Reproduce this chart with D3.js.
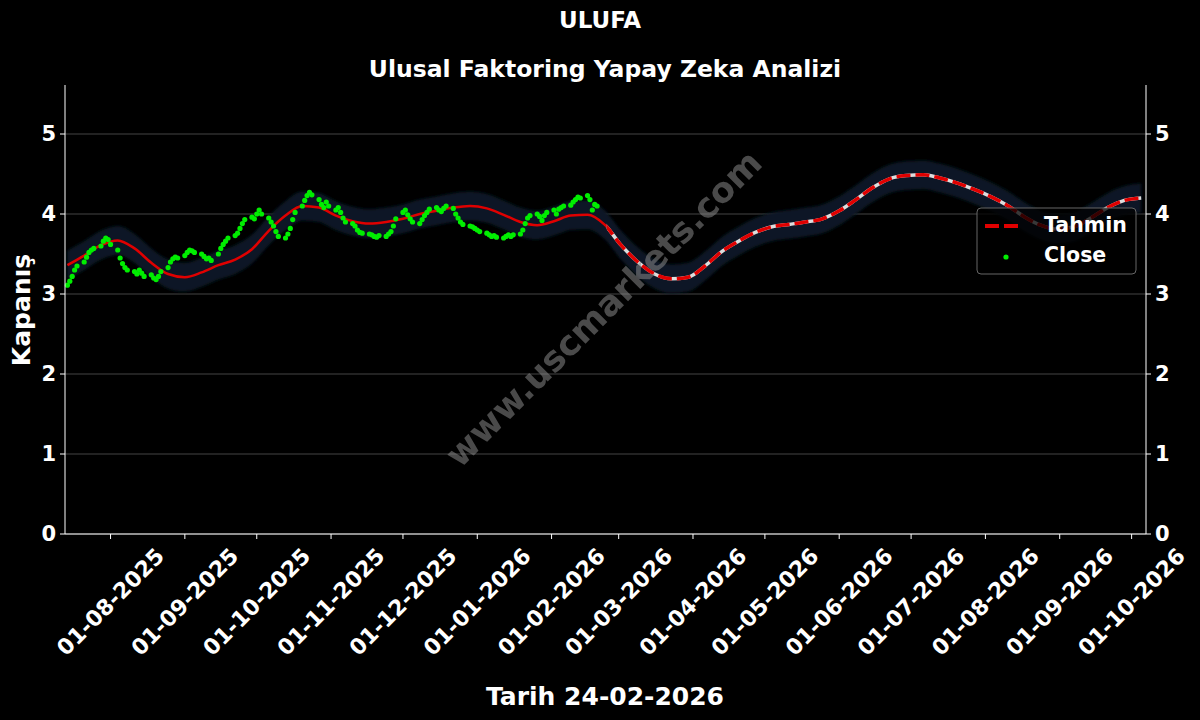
<!DOCTYPE html>
<html><head><meta charset="utf-8">
<script src="https://cdn.jsdelivr.net/npm/d3@7"></script>
<style>body{margin:0;background:#000}text{font-family:"DejaVu Sans";font-weight:bold;fill:#fff}</style>
</head><body><svg id="c" width="1200" height="720"></svg>
<script>
const predStart = "2025-07-14"; // weekly points
const predValues = [3.36,3.48,3.61,3.67,3.57,3.39,3.25,3.21,3.27,3.36,3.43,3.56,3.79,3.98,4.10,4.08,3.98,3.91,3.88,3.90,3.94,4.00,4.04,4.08,4.10,4.07,3.99,3.90,3.86,3.91,3.98,3.99,3.87,3.61,3.40,3.25,3.19,3.21,3.35,3.53,3.66,3.77,3.84,3.87,3.90,3.94,4.04,4.18,4.33,4.44,4.48,4.49,4.45,4.39,4.31,4.22,4.11,3.97,3.86,3.81,3.84,3.95,4.08,4.17,4.20];
const closeStart = "2025-07-14"; // trading days
const closeValues = [3.11,3.16,3.22,3.30,3.35,3.40,3.46,3.52,3.55,3.57,
3.60,3.66,3.70,3.68,
3.62,3.55,3.45,3.38,3.33,3.30,3.28,3.25,
3.30,3.26,3.22,3.24,3.20,3.18,
3.22,3.28,3.33,3.40,3.44,3.46,3.45,3.48,3.52,3.55,3.54,3.52,
3.50,3.47,3.44,3.45,3.42,3.50,3.57,3.62,3.66,3.70,3.73,3.76,
3.82,3.88,3.93,3.96,3.94,4.00,4.05,
4.00,3.95,3.90,3.85,3.78,3.72,3.70,
3.75,3.82,3.93,4.02,4.10,4.17,4.23,4.27,
4.24,4.18,4.12,4.08,4.15,4.10,4.05,4.08,4.02,3.95,3.90,
3.88,3.85,3.80,3.77,3.76,3.75,3.74,3.72,3.71,3.73,3.72,3.75,3.78,
3.85,3.94,4.02,4.05,3.99,3.94,3.90,3.88,3.93,3.98,4.02,4.06,4.08,4.05,4.03,4.07,4.10,4.07,
4.00,3.95,3.90,3.87,3.85,3.84,3.82,3.80,3.78,3.76,3.74,3.72,3.73,3.71,3.70,3.72,3.74,3.72,
3.74,3.75,3.80,3.88,3.95,3.98,4.00,3.97,3.92,3.98,4.02,4.05,4.00,
4.06,4.08,4.10,4.11,4.15,4.18,4.21,4.20,4.23,4.18,4.05,4.12,4.10];
const forecastFrom = "2026-02-24";
const bandHalf = 0.18;
const xTickLabels = ["01-08-2025","01-09-2025","01-10-2025","01-11-2025","01-12-2025","01-01-2026","01-02-2026","01-03-2026","01-04-2026","01-05-2026","01-06-2026","01-07-2026","01-08-2026","01-09-2026","01-10-2026"];
const yTicks = [0,1,2,3,4,5];

const parse = d3.timeParse("%Y-%m-%d"), pl = d3.timeParse("%d-%m-%Y");
const pred = predValues.map((v,i)=>({d:d3.timeDay.offset(parse(predStart),7*i),v}));
const close = []; let day = parse(closeStart);
closeValues.forEach(v=>{ while(day.getDay()==0||day.getDay()==6) day=d3.timeDay.offset(day,1); close.push({d:day,v}); day=d3.timeDay.offset(day,1);});
const svg = d3.select("#c");
const L=65,R=1146,T=85,B=534;
const x = d3.scaleTime().domain([parse("2025-07-13"),parse("2026-10-07")]).range([L,R]);
const y = d3.scaleLinear().domain([0,5.6125]).range([B,T]);
svg.append("rect").attr("width",1200).attr("height",720).attr("fill","#000");
svg.append("defs").append("filter").attr("id","blur").append("feGaussianBlur").attr("stdDeviation",1.5);
yTicks.forEach(t=>svg.append("line").attr("x1",L).attr("x2",R).attr("y1",y(t)).attr("y2",y(t)).attr("stroke","#555").attr("stroke-width",0.8));
const curve=d3.curveMonotoneX;
svg.append("path").datum(pred).attr("fill","#0a1826").attr("filter","url(#blur)")
 .attr("d",d3.area().x(d=>x(d.d)).y0(d=>y(d.v-bandHalf)).y1(d=>y(d.v+bandHalf)).curve(curve));
const line=d3.line().x(d=>x(d.d)).y(d=>y(d.v)).curve(curve);
const fc=parse(forecastFrom);
svg.append("clipPath").attr("id","ch").append("rect").attr("x",0).attr("y",0).attr("width",x(fc)).attr("height",720);
svg.append("clipPath").attr("id","cf").append("rect").attr("x",x(fc)).attr("y",0).attr("width",1200).attr("height",720);
svg.append("path").datum(pred).attr("clip-path","url(#ch)").attr("fill","none").attr("stroke","#e00000").attr("stroke-width",2.5).attr("d",line);
svg.append("path").datum(pred).attr("clip-path","url(#cf)").attr("fill","none").attr("stroke","#ddd").attr("stroke-width",3.5).attr("d",line);
svg.append("path").datum(pred).attr("clip-path","url(#cf)").attr("fill","none").attr("stroke","#e00000").attr("stroke-width",3.5).attr("stroke-dasharray","14,5").attr("d",line);
svg.selectAll("circle.c").data(close).join("circle").attr("cx",d=>x(d.d)).attr("cy",d=>y(d.v)).attr("r",2.6).attr("fill","#00ee00");
svg.append("text").attr("transform","translate(605,310) rotate(-45)").attr("text-anchor","middle").attr("dominant-baseline","middle")
 .style("font-size","35px").style("fill","#888").style("opacity",0.55).text("www.uscmarkets.com");
const ax=svg.append("g");
ax.append("line").attr("x1",L).attr("x2",L).attr("y1",T).attr("y2",B).attr("stroke","#fff");
ax.append("line").attr("x1",R).attr("x2",R).attr("y1",T).attr("y2",B).attr("stroke","#fff");
ax.append("line").attr("x1",L).attr("x2",R).attr("y1",B).attr("y2",B).attr("stroke","#fff");
yTicks.forEach(t=>{
 ax.append("line").attr("x1",L-5).attr("x2",L).attr("y1",y(t)).attr("y2",y(t)).attr("stroke","#fff");
 ax.append("line").attr("x1",R).attr("x2",R+5).attr("y1",y(t)).attr("y2",y(t)).attr("stroke","#fff");
 ax.append("text").attr("x",L-9).attr("y",y(t)).attr("text-anchor","end").attr("dominant-baseline","central").style("font-size","21px").text(t);
 ax.append("text").attr("x",R+9).attr("y",y(t)).attr("text-anchor","start").attr("dominant-baseline","central").style("font-size","21px").text(t);
});
xTickLabels.forEach(s=>{const px=x(pl(s));
 ax.append("line").attr("x1",px).attr("x2",px).attr("y1",B).attr("y2",B+5).attr("stroke","#fff");
 ax.append("text").attr("transform",`translate(${px},${B+68}) rotate(-45)`).attr("text-anchor","middle").attr("dominant-baseline","central").style("font-size","22px").text(s);
});
svg.append("text").attr("x",600).attr("y",28).attr("text-anchor","middle").style("font-size","23px").text("ULUFA");
svg.append("text").attr("x",605).attr("y",77).attr("text-anchor","middle").style("font-size","23.5px").text("Ulusal Faktoring Yapay Zeka Analizi");
svg.append("text").attr("x",605).attr("y",705).attr("text-anchor","middle").style("font-size","25px").text("Tarih 24-02-2026");
svg.append("text").attr("transform","translate(30,310) rotate(-90)").attr("text-anchor","middle").style("font-size","25px").text("Kapanış");
const lg=svg.append("g");
lg.append("rect").attr("x",977).attr("y",208).attr("width",159).attr("height",66).attr("rx",4).attr("fill","#000").attr("fill-opacity",0.75).attr("stroke","#666");
lg.append("line").attr("x1",985).attr("x2",1022).attr("y1",226).attr("y2",226).attr("stroke","#e00000").attr("stroke-width",4).attr("stroke-dasharray","14,5");
lg.append("circle").attr("cx",1006).attr("cy",257).attr("r",2.6).attr("fill","#00ee00");
lg.append("text").attr("x",1044).attr("y",232).style("font-size","20.5px").text("Tahmin");
lg.append("text").attr("x",1044).attr("y",262).style("font-size","20.5px").text("Close");
</script></body></html>
